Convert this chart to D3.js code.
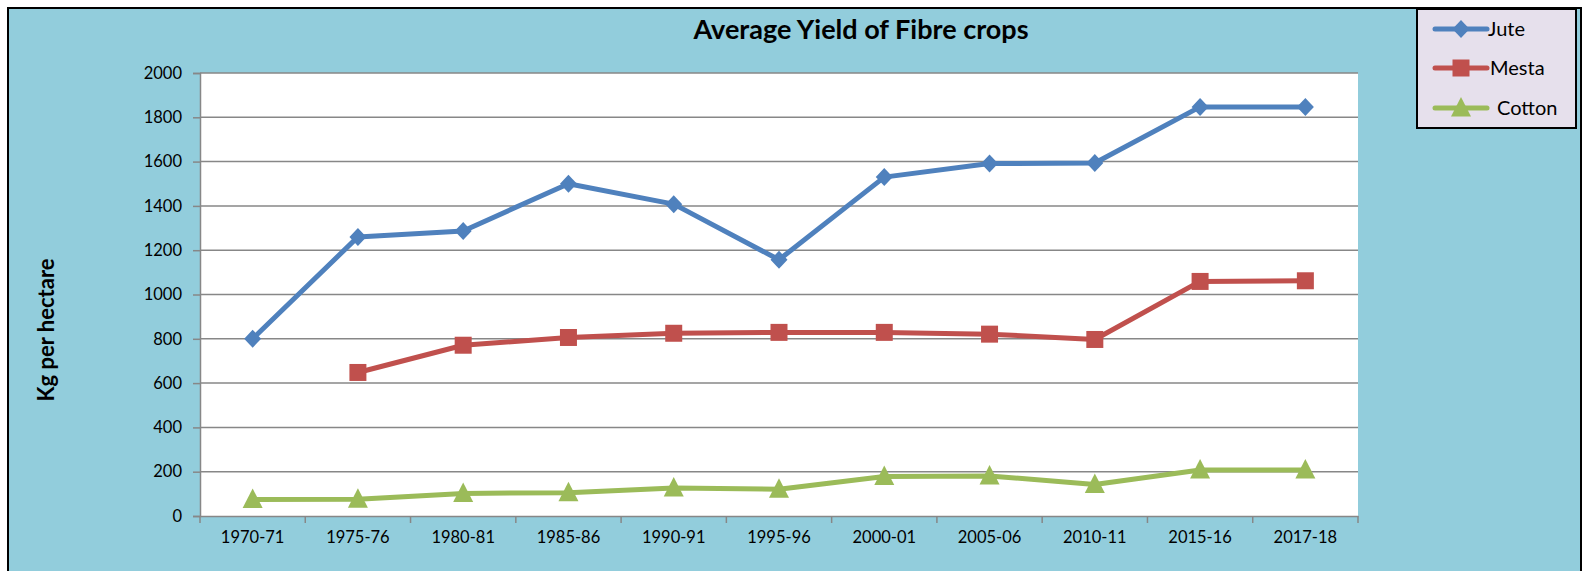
<!DOCTYPE html>
<html>
<head>
<meta charset="utf-8">
<script src="https://cdn.jsdelivr.net/npm/d3@7"></script>
<style>
  html, body { margin: 0; padding: 0; background: #ffffff; }
  svg { display: block; font-family: Lato, "Open Sans", sans-serif; }
</style>
</head>
<body>
<div id="chart"></div>
<script>
// Seasons on the category axis
const seasons = ["1970-71", "1975-76", "1980-81", "1985-86", "1990-91", "1995-96",
                 "2000-01", "2005-06", "2010-11", "2015-16", "2017-18"];

// Average yield, kg per hectare (null = no figure for that season)
const jute   = [800, 1260, 1287, 1500, 1408, 1157, 1530, 1591, 1594, 1847, 1847];
const mesta  = [null, 648, 771, 806, 825, 829, 829, 821, 797, 1059, 1062];
const cotton = [75, 76, 102, 105, 126, 121, 178, 181, 142, 208, 208];

const yTicks = [0, 200, 400, 600, 800, 1000, 1200, 1400, 1600, 1800, 2000];

const seriesList = [
  { name: "Jute",   values: jute,   color: "#4F81BD", marker: "diamond" },
  { name: "Mesta",  values: mesta,  color: "#C0504D", marker: "square" },
  { name: "Cotton", values: cotton, color: "#9BBB59", marker: "triangle" }
];

const W = 1583, H = 571;
const plot = { left: 200, right: 1358, top: 73, bottom: 516 };

const svg = d3.select("#chart").append("svg")
  .attr("width", W).attr("height", H);

// Chart area with its black frame
svg.append("rect")
  .attr("x", 8).attr("y", 8)
  .attr("width", 1573).attr("height", H + 10)
  .attr("fill", "#92CDDC")
  .attr("stroke", "#000").attr("stroke-width", 2);

// Plot area
svg.append("rect")
  .attr("x", plot.left).attr("y", plot.top)
  .attr("width", plot.right - plot.left).attr("height", plot.bottom - plot.top)
  .attr("fill", "#ffffff");

const x = d3.scaleBand().domain(seasons).range([plot.left, plot.right]);
const y = d3.scaleLinear().domain([0, 2000]).range([plot.bottom, plot.top]);

// Horizontal gridlines
svg.append("g").selectAll("line").data(yTicks.filter(d => d > 0)).join("line")
  .attr("x1", plot.left).attr("x2", plot.right)
  .attr("y1", d => y(d)).attr("y2", d => y(d))
  .attr("stroke", "#878787").attr("stroke-width", 1.5);

// Y axis
const yAxis = svg.append("g")
  .attr("transform", `translate(${plot.left},0)`)
  .call(d3.axisLeft(y).tickValues(yTicks).tickSize(7).tickPadding(11).tickFormat(d3.format("d")));
yAxis.select(".domain").attr("stroke", "#878787").attr("stroke-width", 1.5);
yAxis.selectAll(".tick line").attr("stroke", "#878787").attr("stroke-width", 1.5);
yAxis.selectAll(".tick text")
  .attr("fill", "#000").style("font-size", "16.5px").style("font-family", "Lato, sans-serif");

// X axis, ticks on the category boundaries
const xAxis = svg.append("g")
  .attr("transform", `translate(0,${plot.bottom})`)
  .call(d3.axisBottom(x).tickSize(0).tickPadding(15));
xAxis.select(".domain").attr("stroke", "#878787").attr("stroke-width", 1.5);
xAxis.selectAll(".tick text")
  .attr("fill", "#000").style("font-size", "16.5px").style("font-family", "Lato, sans-serif");
const bounds = seasons.map(s => x(s)).concat([plot.right]);
svg.append("g").selectAll("line").data(bounds).join("line")
  .attr("x1", d => d).attr("x2", d => d)
  .attr("y1", plot.bottom).attr("y2", plot.bottom + 7)
  .attr("stroke", "#878787").attr("stroke-width", 1.5);

// Marker shapes
function markerPath(type) {
  if (type === "diamond") return "M0,-9L8.5,0L0,9L-8.5,0Z";
  if (type === "square") return "M-8.5,-8.5H8.5V8.5H-8.5Z";
  return "M0,-11L10,8.5H-10Z";
}

const cx = d => x(d) + x.bandwidth() / 2;

// Lines and markers
seriesList.forEach(s => {
  const pts = seasons.map((season, i) => ({ season, v: s.values[i] }))
    .filter(p => p.v !== null);
  const line = d3.line().x(p => cx(p.season)).y(p => y(p.v));
  svg.append("path")
    .datum(pts)
    .attr("d", line)
    .attr("fill", "none")
    .attr("stroke", s.color)
    .attr("stroke-width", 5)
    .attr("stroke-linejoin", "round");
  svg.append("g").selectAll("path").data(pts).join("path")
    .attr("transform", p => `translate(${cx(p.season)},${y(p.v)})`)
    .attr("d", markerPath(s.marker))
    .attr("fill", s.color);
});

// Title
svg.append("text")
  .attr("x", 861).attr("y", 39)
  .attr("text-anchor", "middle")
  .style("font-size", "27px").style("font-weight", "bold")
  .text("Average Yield of Fibre crops");

// Y axis title
svg.append("text")
  .attr("transform", "translate(54,330) rotate(-90)")
  .attr("text-anchor", "middle")
  .style("font-size", "22px").style("font-weight", "bold")
  .text("Kg per hectare");

// Legend
const legend = svg.append("g");
legend.append("rect")
  .attr("x", 1417).attr("y", 9)
  .attr("width", 159).attr("height", 119)
  .attr("fill", "#E6E0EC")
  .attr("stroke", "#000").attr("stroke-width", 2);
const legendY = [29, 68, 108];
const legendTextX = [1488, 1490, 1497];
seriesList.forEach((s, i) => {
  const g = legend.append("g").attr("transform", `translate(0,${legendY[i]})`);
  g.append("line")
    .attr("x1", 1435).attr("x2", 1487)
    .attr("stroke", s.color).attr("stroke-width", 5).attr("stroke-linecap", "round");
  g.append("path")
    .attr("transform", "translate(1461,0)")
    .attr("d", markerPath(s.marker))
    .attr("fill", s.color);
  g.append("text")
    .attr("x", legendTextX[i]).attr("y", 7)
    .style("font-size", "20px")
    .text(s.name);
});
</script>
</body>
</html>
